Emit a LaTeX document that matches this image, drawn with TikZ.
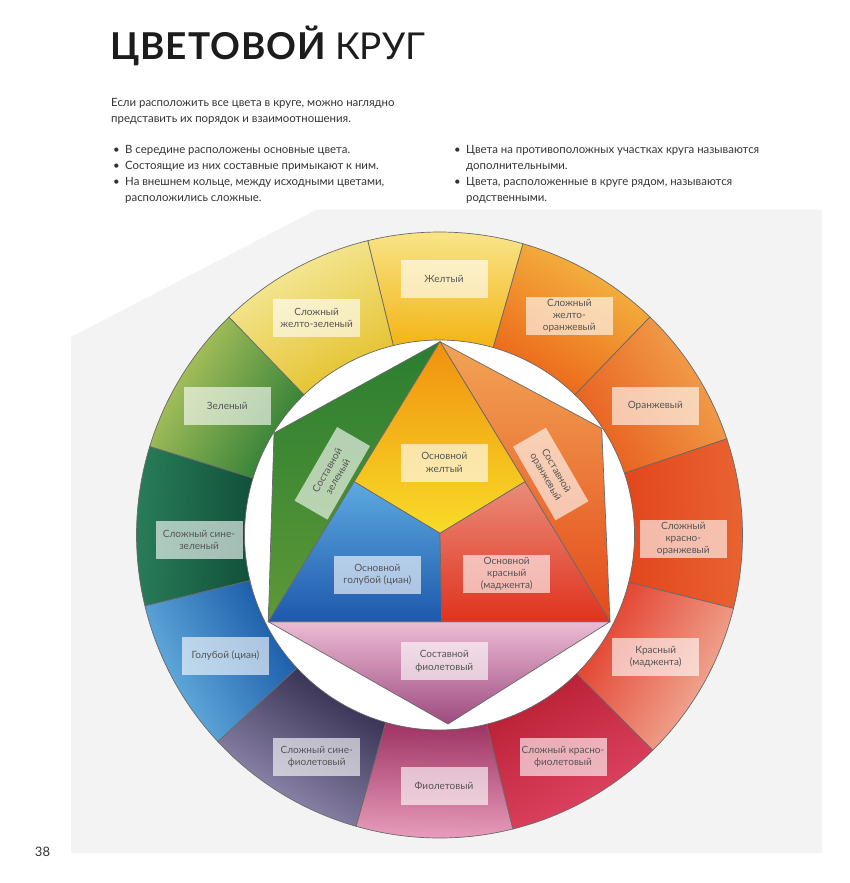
\documentclass[tikz,border=0pt]{standalone}
\usepackage{fontspec}
\setmainfont{Lato}
\usetikzlibrary{calc}
\definecolor{panel}{HTML}{F3F3F3}
\definecolor{linegray}{HTML}{6A6A6A}
\definecolor{titlecol}{HTML}{1C1C1C}
\definecolor{bodycol}{HTML}{333333}
\definecolor{lbltext}{HTML}{555555}
\newcommand{\ringseg}[4]{%
  \definecolor{segout}{HTML}{#3}\definecolor{segin}{HTML}{#4}%
  \pgfmathsetmacro{\segang}{(#1+#2)/2-90}%
  \path[top color=segout, bottom color=segin, shading angle=\segang, draw=linegray, line width=0.7pt]
    ($(C)+(-#1:303)$) arc[start angle=-#1, end angle=-#2, radius=303]
    -- ($(C)+(-#2:195)$) arc[start angle=-#2, end angle=-#1, radius=195] -- cycle;}
\newcommand{\hexcol}[2]{\definecolor{#1}{HTML}{#2}}
\hexcol{grtop}{2A7E30}\hexcol{grbot}{5E9838}
\hexcol{ortop}{F2A456}\hexcol{orbot}{E44A1A}
\hexcol{vitop}{ECBCD4}\hexcol{vibot}{9E4A80}
\hexcol{yetop}{F0900E}\hexcol{yebot}{F8DC28}
\hexcol{bltop}{5CAAE0}\hexcol{blbot}{1E58AC}
\hexcol{retop}{EA8C7A}\hexcol{rebot}{E0321E}
\tikzset{
  lbl/.style={fill=white, fill opacity=0.62, text opacity=1, text=lbltext,
    minimum width=87pt, minimum height=38pt, inner sep=1pt, align=center,
    font=\fontsize{10}{12.2}\selectfont},
  body/.style={anchor=base west, inner sep=0pt, align=left, text=bodycol,
    font=\fontsize{11.4}{16}\selectfont},
  poly/.style={draw=linegray, line width=0.7pt, line join=round}
}
\begin{document}
\begin{tikzpicture}[x=1pt,y=-1pt]
\useasboundingbox (0,0) rectangle (849,883);
\fill[white] (0,0) rectangle (849,883);
\fill[panel] (317,209.5) -- (822,209.5) -- (822,853) -- (71,853) -- (71,337) -- cycle;
\coordinate (C) at (439.5,535);
\fill[white] (C) circle[radius=195];
% ring
\ringseg{74}{103.7}{F8E68C}{F4B414}
\ringseg{46}{74}{F4BC44}{EC6418}
\ringseg{18.5}{46}{F2A650}{E85E1E}
\ringseg{-14}{18.5}{E96432}{E2461C}
\ringseg{-45.3}{-14}{F2B8A2}{E23A28}
\ringseg{-76}{-45.3}{E24866}{B81E32}
\ringseg{254}{284}{EAA0BE}{9E3262}
\ringseg{223}{254}{9C94BA}{2E2A4A}
\ringseg{193.5}{223}{6CB6E2}{1656A6}
\ringseg{163}{193.5}{2A7E5A}{10503A}
\ringseg{134}{163}{BCCB62}{2C7C34}
\ringseg{103.7}{134}{F6EDA4}{E4C02A}
% inner figure
\coordinate (T) at (440,341.7);
\coordinate (GL) at (274,433);
\coordinate (BL) at (268.3,621.7);
\coordinate (BR) at (610,621.7);
\coordinate (OR) at (601.7,428.3);
\coordinate (VB) at (448,724);
\coordinate (ML) at (354.2,481.7);
\coordinate (MR) at (525,481.7);
\coordinate (CC) at (440,533.3);
\coordinate (MB) at (441.7,621.7);
\path[poly, top color=grtop, bottom color=grbot] (T) -- (GL) -- (BL) -- cycle;
\path[poly, top color=ortop, bottom color=orbot] (T) -- (OR) -- (BR) -- cycle;
\path[poly, top color=vitop, bottom color=vibot] (BL) -- (BR) -- (VB) -- cycle;
\path[poly, top color=yetop, bottom color=yebot] (T) -- (MR) -- (CC) -- (ML) -- cycle;
\path[poly, top color=bltop, bottom color=blbot] (ML) -- (CC) -- (MB) -- (BL) -- cycle;
\path[poly, top color=retop, bottom color=rebot] (MR) -- (BR) -- (MB) -- (CC) -- cycle;
% labels
\node[lbl] (zhelt) at (444,278.5) {Желтый};
\node[lbl] (zhzel) at (316.7,318) {Сложный\\желто-зеленый};
\node[lbl] (zhor) at (569.3,316) {Сложный\\желто-\\оранжевый};
\node[lbl] (zel) at (227.3,405.8) {Зеленый};
\node[lbl] (oranzh) at (655.3,405.8) {Оранжевый};
\node[lbl, minimum width=85pt, rotate=60] (sostzel) at (332.3,473.3) {Составной\\зеленый};
\node[lbl] (osnzh) at (444.3,462.5) {Основной\\желтый};
\node[lbl, minimum width=85pt, rotate=-60] (sostor) at (550.7,474) {Составной\\оранжевый};
\node[lbl] (sinezel) at (199,540) {Сложный сине-\\зеленый};
\node[lbl] (krasnor) at (683.3,538.5) {Сложный\\красно-\\оранжевый};
\node[lbl] (osngol) at (377.3,574.7) {Основной\\голубой (циан)};
\node[lbl] (osnkr) at (506.7,574) {Основной\\красный\\(маджента)};
\node[lbl] (gol) at (225.5,655.7) {Голубой (циан)};
\node[lbl] (sostfiol) at (444.3,661.2) {Составной\\фиолетовый};
\node[lbl] (kras) at (655.7,657) {Красный\\(маджента)};
\node[lbl] (sinefiol) at (316.7,757) {Сложный сине-\\фиолетовый};
\node[lbl] (krfiol) at (563,757) {Сложный красно-\\фиолетовый};
\node[lbl] (fiol) at (444,786) {Фиолетовый};
% texts
\node[anchor=base west, inner sep=0pt, text=titlecol, font=\fontsize{37}{37}\selectfont] (title) at (110,59.5) {{\addfontfeatures{LetterSpace=2.5}\bfseries ЦВЕТОВОЙ} КРУГ};
\node[body] (intro) at (111,122) {Если расположить все цвета в круге, можно наглядно\\представить их порядок и взаимоотношения.};
\node[body] (listl) at (113,201.5) {\makebox[12pt][l]{•}В середине расположены основные цвета.\\\makebox[12pt][l]{•}Состоящие из них составные примыкают к ним.\\\makebox[12pt][l]{•}На внешнем кольце, между исходными цветами,\\\hspace*{12pt}расположились сложные.};
\node[body] (listr) at (454,201.5) {\makebox[12pt][l]{•}Цвета на противоположных участках круга называются\\\hspace*{12pt}дополнительными.\\\makebox[12pt][l]{•}Цвета, расположенные в круге рядом, называются\\\hspace*{12pt}родственными.};
\node[text=bodycol, font=\fontsize{13}{13}\selectfont, inner sep=0pt] (page) at (42.5,852) {38};
\end{tikzpicture}
\end{document}
